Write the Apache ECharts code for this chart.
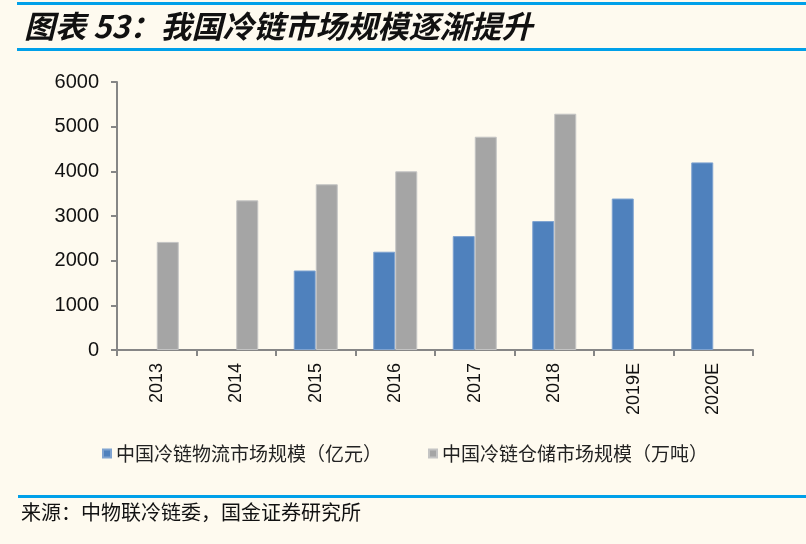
<!DOCTYPE html>
<html>
<head>
<meta charset="utf-8">
<script src="https://cdn.jsdelivr.net/npm/echarts@6/dist/echarts.min.js"></script>
<style>
html,body{margin:0;padding:0;background:#FEFAEF;}
#c{width:806px;height:544px;}
</style>
</head>
<body>
<div id="c"></div>
<script>
const categories = ['2013','2014','2015','2016','2017','2018','2019E','2020E'];
const logisticsSize = [null, null, 1780, 2200, 2550, 2886, 3391, 4200];
const storageSize = [2420, 3350, 3710, 4000, 4775, 5290, null, null];
const seriesNames = ['中国冷链物流市场规模（亿元）', '中国冷链仓储市场规模（万吨）'];
const yTicks = {min: 0, max: 6000, interval: 1000};
const titleText = '图表 53：我国冷链市场规模逐渐提升';
const sourceText = '来源：中物联冷链委，国金证券研究所';

const chart = echarts.init(document.getElementById('c'), null, {renderer: 'canvas'});
const cjk = '"Noto Sans CJK SC", sans-serif';
const num = '"Liberation Sans", Arial, sans-serif';
chart.setOption({
  backgroundColor: '#FEFAEF',
  animation: false,
  title: {
    text: titleText,
    left: 19, top: 6,
    textStyle: {fontFamily: cjk, fontSize: 31, fontStyle: 'italic', fontWeight: 'bold', color: '#111'}
  },
  graphic: [
    {type: 'rect', shape: {x: 17, y: 2, width: 789, height: 3}, style: {fill: '#00A0E9'}},
    {type: 'rect', shape: {x: 17, y: 48, width: 789, height: 3}, style: {fill: '#00A0E9'}},
    {type: 'rect', shape: {x: 18, y: 495, width: 788, height: 3}, style: {fill: '#00A0E9'}},
    {type: 'text', left: 21, top: 502, style: {text: sourceText, font: '20px "Noto Sans CJK SC"', fill: '#111'}}
  ],
  legend: {
    left: 97, top: 439,
    itemWidth: 8, itemHeight: 8, itemGap: 46,
    icon: 'rect',
    textStyle: {fontFamily: cjk, fontSize: 19, color: '#222'},
    data: seriesNames
  },
  grid: {left: 117, right: 53, top: 82, bottom: 194},
  xAxis: {
    type: 'category',
    data: categories,
    axisLine: {lineStyle: {color: '#868686', width: 2}},
    axisTick: {show: true, length: 6, alignWithLabel: false, lineStyle: {color: '#868686', width: 2}},
    axisLabel: {rotate: 90, margin: 13, color: '#111', fontFamily: num, fontSize: 18}
  },
  yAxis: {
    type: 'value',
    min: yTicks.min, max: yTicks.max, interval: yTicks.interval,
    axisLine: {show: true, lineStyle: {color: '#868686', width: 2}},
    axisTick: {show: true, length: 6, lineStyle: {color: '#868686', width: 2}},
    splitLine: {show: false},
    axisLabel: {margin: 18, color: '#111', fontFamily: num, fontSize: 20, formatter: v => String(v)}
  },
  series: [
    {name: seriesNames[0], type: 'bar', data: logisticsSize, barWidth: 22, barGap: '0%',
     itemStyle: {color: '#4F81BD', borderColor: '#7FA3D0', borderWidth: 1}},
    {name: seriesNames[1], type: 'bar', data: storageSize, barWidth: 22, barGap: '0%',
     itemStyle: {color: '#A5A5A5', borderColor: '#C4C4C4', borderWidth: 1}}
  ]
});
</script>
</body>
</html>
